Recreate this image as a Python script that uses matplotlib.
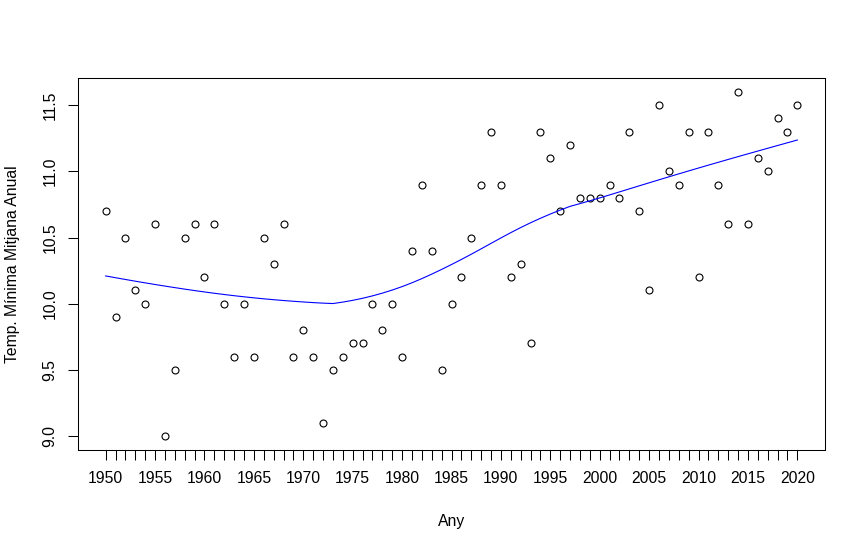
import numpy as np
import matplotlib
matplotlib.use("Agg")
import matplotlib.pyplot as plt
from matplotlib.ticker import MultipleLocator

years = list(range(1950, 2021))
temps = [10.7, 9.9, 10.5, 10.1, 10.0, 10.6, 9.0, 9.5, 10.5, 10.6,
         10.2, 10.6, 10.0, 9.6, 10.0, 9.6, 10.5, 10.3, 10.6, 9.6,
         9.8, 9.6, 9.1, 9.5, 9.6, 9.7, 9.7, 10.0, 9.8, 10.0,
         9.6, 10.4, 10.9, 10.4, 9.5, 10.0, 10.2, 10.5, 10.9, 11.3,
         10.9, 10.2, 10.3, 9.7, 11.3, 11.1, 10.7, 11.2, 10.8, 10.8,
         10.8, 10.9, 10.8, 11.3, 10.7, 10.1, 11.5, 11.0, 10.9, 11.3,
         10.2, 11.3, 10.9, 10.6, 11.6, 10.6, 11.1, 11.0, 11.4, 11.3,
         11.5]
xlabel_text = "Any"
ylabel_text = "Temp. Mínima Mitjana Anual"


def lowess(x, y, f=2/3, iters=3):
    """Locally weighted regression in the style of R's lowess()."""
    x = np.asarray(x, float)
    y = np.asarray(y, float)
    n = len(x)
    ns = max(min(int(f * n + 1e-7), n), 2)
    rw = np.ones(n)
    ys = np.zeros(n)
    for it in range(iters + 1):
        for i in range(n):
            d = np.abs(x - x[i])
            h = np.sort(d)[ns - 1]
            w = np.zeros(n)
            small = d <= 0.001 * h
            mid = (d > 0.001 * h) & (d <= 0.999 * h)
            w[small] = 1.0
            w[mid] = (1 - (d[mid] / h) ** 3) ** 3
            w = w * rw
            sw = w.sum()
            xm = (w * x).sum() / sw
            ym = (w * y).sum() / sw
            sxx = (w * (x - xm) ** 2).sum()
            if sxx > 1e-12:
                b = (w * (x - xm) * (y - ym)).sum() / sxx
            else:
                b = 0.0
            ys[i] = ym + b * (x[i] - xm)
        if it == iters:
            break
        res = y - ys
        cmad = 6 * np.median(np.abs(res))
        r = np.abs(res)
        rw = np.zeros(n)
        rw[r <= 0.001 * cmad] = 1.0
        m = (r > 0.001 * cmad) & (r <= 0.999 * cmad)
        rw[m] = (1 - (r[m] / cmad) ** 2) ** 2
    return x, ys


plt.rcParams['font.family'] = ['Liberation Sans', 'DejaVu Sans']

fig = plt.figure(figsize=(8.66, 5.48), dpi=100)
ax = fig.add_axes([78 / 866, 1 - 450 / 548, (825 - 78) / 866, (450 - 78) / 548])

ax.plot(years, temps, linestyle='none', marker='o', markersize=5,
        markerfacecolor='none', markeredgecolor='black', markeredgewidth=0.8)
lx, ly = lowess(years, temps)
ax.plot(lx, ly, color='#0000FF', linewidth=0.8)

xr = max(years) - min(years)
ax.set_xlim(min(years) - 0.04 * xr, max(years) + 0.04 * xr)
yr = max(temps) - min(temps)
ax.set_ylim(min(temps) - 0.04 * yr, max(temps) + 0.04 * yr)

ax.set_xticks(years)
ax.set_xticklabels([str(y) if y % 5 == 0 else '' for y in years])
ax.yaxis.set_major_locator(MultipleLocator(0.5))
ax.set_yticks([9.0, 9.5, 10.0, 10.5, 11.0, 11.5])
ax.set_yticklabels(['9.0', '9.5', '10.0', '10.5', '11.0', '11.5'],
                   rotation=90, va='center')

ax.tick_params(axis='both', direction='out', length=7.2, width=0.75,
               labelsize=11.3, pad=7.5)
ax.tick_params(axis='x', pad=8)
for s in ax.spines.values():
    s.set_linewidth(0.75)

ax.set_xlabel(xlabel_text, fontsize=11.3, labelpad=20)
ax.set_ylabel(ylabel_text, fontsize=11.3, labelpad=16)

fig.savefig("out.png", dpi=100)
